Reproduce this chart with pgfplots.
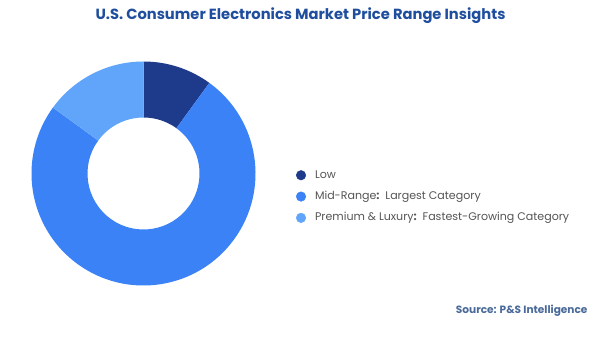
\documentclass[border=0pt]{standalone}
\usepackage{pgfplots}
\pgfplotsset{compat=1.18}
\usepackage{pgfplotstable}
\usepackage{fontspec}
\setmainfont{Poppins}
\definecolor{cLow}{HTML}{1E3A8A}
\definecolor{cMid}{HTML}{3B82F6}
\definecolor{cPrem}{HTML}{60A5FA}
\definecolor{cTitle}{HTML}{1F4E9E}
\definecolor{cSrc}{HTML}{4A6A9A}
\definecolor{cLeg}{HTML}{555555}
% share of the U.S. market by price range (percent)
\pgfplotstableread{
seg value
Low 10
Mid 75
Premium 15
}\shares
\pgfplotstablegetelem{0}{value}\of\shares \let\vLow\pgfplotsretval
\pgfplotstablegetelem{1}{value}\of\shares \let\vMid\pgfplotsretval
\pgfplotstablegetelem{2}{value}\of\shares \let\vPrem\pgfplotsretval
\begin{document}
\begin{tikzpicture}[x=1bp,y=1bp]
\path[fill=white] (0,0) rectangle (600,337);
\node[font=\bfseries\fontsize{14.75}{16}\selectfont, text=cTitle] at (300.5,321.5) {U.S. Consumer Electronics Market Price Range Insights};
\node[font=\bfseries\fontsize{10.6}{12}\selectfont, text=cSrc, anchor=east] at (591,26) {Source: P\&S Intelligence};
\begin{axis}[
  at={(143.5bp,163.5bp)}, anchor=center,
  width=226bp, height=226bp, scale only axis,
  xmin=-1, xmax=1, ymin=-1, ymax=1,
  hide axis, clip=false,
  legend style={draw=none, fill=none, at={(1.174,0.398)}, anchor=west,
    font=\fontsize{11.1}{13}\selectfont, text=cLeg, row sep=10.8bp,
    inner sep=0pt, nodes={inner sep=0pt, text height=8bp, text depth=2.5bp},
    /tikz/every odd column/.append style={column sep=9bp}},
  legend cell align=left,
  legend image code/.code={\fill[#1] (3bp,0) circle (4.8bp);},
]
\pgfmathsetmacro{\aA}{90}
\pgfmathsetmacro{\aB}{90-3.6*\vLow}
\pgfmathsetmacro{\aC}{\aB-3.6*\vMid}
\pgfmathsetmacro{\aD}{\aC-3.6*\vPrem}
\fill[cLow] (axis cs:0,0) ++(\aA:112bp) arc[start angle=\aA, end angle=\aB, radius=112bp] -- ++(\aB+180:56bp) arc[start angle=\aB, end angle=\aA, radius=56bp] -- cycle;
\fill[cMid] (axis cs:0,0) ++(\aB:112bp) arc[start angle=\aB, end angle=\aC, radius=112bp] -- ++(\aC+180:56bp) arc[start angle=\aC, end angle=\aB, radius=56bp] -- cycle;
\fill[cPrem] (axis cs:0,0) ++(\aC:112bp) arc[start angle=\aC, end angle=\aD, radius=112bp] -- ++(\aD+180:56bp) arc[start angle=\aD, end angle=\aC, radius=56bp] -- cycle;
\addlegendimage{cLow}
\addlegendentry{Low}
\addlegendimage{cMid}
\addlegendentry{Mid-Range\textbf{:}\ \ Largest Category}
\addlegendimage{cPrem}
\addlegendentry{Premium \& Luxury\textbf{:}\ \ Fastest-Growing Category}
\end{axis}
\end{tikzpicture}
\end{document}
